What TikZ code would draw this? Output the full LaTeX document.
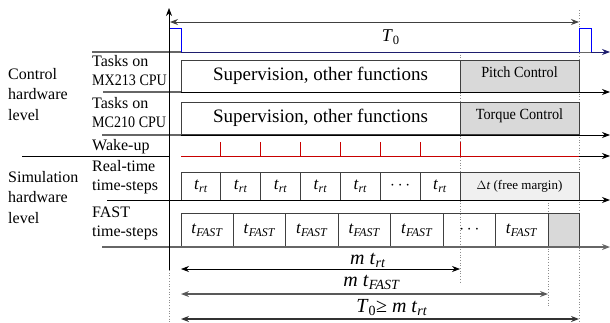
\documentclass[tikz,border=0pt]{standalone}
\usepackage{fontspec}
\setmainfont{Liberation Serif}
\usetikzlibrary{arrows.meta}
\definecolor{wakered}{RGB}{200,0,0}
\definecolor{pulseblue}{RGB}{0,0,255}
\definecolor{axisnavy}{RGB}{30,30,110}
\definecolor{ctrlgray}{RGB}{217,217,217}
\definecolor{margingray}{RGB}{240,240,240}
\newcommand{\trt}{\textit{t}\textsubscript{\textit{rt}}}
\newcommand{\tfast}{\textit{t}\textsubscript{\textit{FAST}}}
\newcommand{\squeeze}[1]{\scalebox{0.88}[1]{#1}}

\begin{document}
\begin{tikzpicture}[x=1pt, y=-1pt,
    every node/.style={font=\fontsize{16}{18}\selectfont},
    lvl/.style={anchor=base west, align=left, inner sep=0pt, font=\fontsize{16}{20.5}\selectfont},
    rowlab/.style={anchor=base west, align=left, inner sep=0pt, font=\fontsize{16}{18.5}\selectfont},
    box/.style={draw=black!75, line width=0.8pt, inner sep=0pt, outer sep=0pt},
    task/.style={box, minimum width=279pt, minimum height=32.5pt, anchor=north west,
                 font=\fontsize{19}{21}\selectfont},
    ctrl/.style={box, fill=ctrlgray, minimum width=119pt, minimum height=32.5pt, anchor=north west,
                 text height=10pt, text depth=8pt, font=\fontsize{15.5}{18}\selectfont},
    rtbox/.style={box, minimum width=39.86pt, minimum height=28pt, anchor=south west,
                  font=\fontsize{17}{19}\selectfont},
    fastbox/.style={box, minimum width=52.43pt, minimum height=34pt, anchor=south west,
                    font=\fontsize{17}{19}\selectfont},
    axis/.style={-{Stealth[length=8pt, width=6pt]}, line width=0.8pt},
    span/.style={{Stealth[length=8pt, width=6pt]}-{Stealth[length=8pt, width=6pt]}},
    guide/.style={dotted, black!45, line width=0.7pt},
    sep/.style={line width=1.2pt, black!60},
    wake/.style={wakered, line width=0.9pt},
    pulse/.style={pulseblue, line width=0.9pt},
    lab/.style={font=\fontsize{20}{22}\selectfont, anchor=base, text=black},
]
    \useasboundingbox (0,0) rectangle (610,322);

    % Left-hand labels (anchored on their last line).
    \node[lvl] (ctrllvl) at (8,120) {Control\\hardware\\level};
    \node[lvl] (simlvl) at (8,223) {Simulation\\hardware\\level};
    \node[rowlab] (mxlab) at (92,85) {Tasks on\\\squeeze{MX213 CPU}};
    \node[rowlab] (mclab) at (92,127) {Tasks on\\\squeeze{MC210 CPU}};
    \node[rowlab] (wakelab) at (92,150) {Wake-up};
    \node[rowlab] (rtlab) at (92,190) {Real-time\\time-steps};
    \node[rowlab] (fastlab) at (92,236) {FAST\\time-steps};

    % Guide lines.
    \draw[guide] (460,52) -- (460,283);
    \draw[guide] (548,173) -- (548,306);
    \draw[guide] (579,10) -- (579,322);
    \draw[guide] (169,270) -- (169,322);

    % Row separators on the left.
    \draw[sep] (92,52) -- (181,52);
    \draw[sep] (103,92) -- (181,92);
    \draw[sep] (102,135) -- (181,135);
    \draw[line width=0.9pt] (22,156) -- (169,156);
    \draw[line width=0.9pt] (107,200) -- (181,200);
    \draw[sep] (102,247) -- (181,247);

    % Control period.
    \coordinate (T0L) at (170,22);
    \coordinate (T0R) at (579,22);
    \draw[span, black!75, line width=0.9pt] (T0L) -- node[pos=0.54, lab, yshift=-19.5pt, font=\fontsize{18}{20}\selectfont] {\textit{T}\textsubscript{0}} (T0R);
    \draw[axis, axisnavy] (181,52) -- (610,52);
    \draw[sep, line width=0.9pt] (579,52) -- (591,52);
    \draw[pulse] (169,52) -- (169,28) -- (181,28) -- (181,52);
    \draw[pulse] (579,52) -- (579,28) -- (591,28) -- (591,52);

    % Tasks on the two CPUs.
    \node[task] (sup1) at (181,60) {Supervision, other functions};
    \node[ctrl, anchor=north west] (pitch) at (sup1.north east) {\scalebox{0.92}[1]{Pitch Control}};
    \draw[axis] (181,92) -- (610,92);
    \node[task] (sup2) at (181,102) {Supervision, other functions};
    \node[ctrl, anchor=north west] (torque) at (sup2.north east) {\scalebox{0.92}[1]{Torque Control}};
    \draw[axis] (181,135) -- (610,135);

    % Real-time steps.
    \foreach \i/\lab in {1/\trt,2/\trt,3/\trt,4/\trt,5/\trt,6/{$\cdots$},7/\trt}
        \node[rtbox] (rt\i) at ({181+(\i-1)*39.86}, 200) {\lab};
    \node[rtbox, fill=margingray, minimum width=119pt, font=\fontsize{13}{15}\selectfont]
        (margin) at (rt7.south east) {$\Delta$\textit{t} (free margin)};
    \draw[axis] (181,200) -- (610,200);

    % Wake-up ticks.
    \draw[wake] (181,156) -- (579,156);
    \draw[axis] (579,156) -- (610,156);
    \foreach \i in {1,...,7}
        \draw[wake] (rt\i.north east) ++(0,-30) -- ++(0,14);

    % FAST steps.
    \foreach \i/\lab in {1/\tfast,2/\tfast,3/\tfast,4/\tfast,5/\tfast,6/{$\cdots$},7/\tfast}
        \node[fastbox] (fast\i) at ({181+(\i-1)*52.43}, 247) {\lab};
    \node[fastbox, fill=ctrlgray, minimum width=31pt] (gap) at (fast7.south east) {};
    \draw[axis, black!60, line width=1.1pt] (181,247) -- (610,247);

    % Time axis.
    \coordinate (ax0) at (169,270);
    \coordinate (ax1) at (169,8);
    \draw[axis, line width=0.7pt] (ax0) -- (ax1);

    % Spans below.
    \coordinate (mrtL) at (181,269);
    \coordinate (mrtR) at (460,269);
    \coordinate (mfastL) at (181,294);
    \coordinate (mfastR) at (548,294);
    \coordinate (totL) at (181,319);
    \coordinate (totR) at (579,319);
    \draw[span, line width=0.7pt] (mrtR) -- node[pos=0.33, lab, yshift=5pt] {\textit{m} \trt} (mrtL);
    \draw[span, black!65, line width=1.3pt] (mfastR) -- node[pos=0.48, lab, yshift=7.5pt] {\textit{m} \tfast} (mfastL);
    \draw[span, black!80, line width=1.3pt] (totR) -- node[pos=0.47, lab, yshift=7pt] {\textit{T}\textsubscript{0}≥ \textit{m} \trt} (totL);
\end{tikzpicture}
\end{document}
